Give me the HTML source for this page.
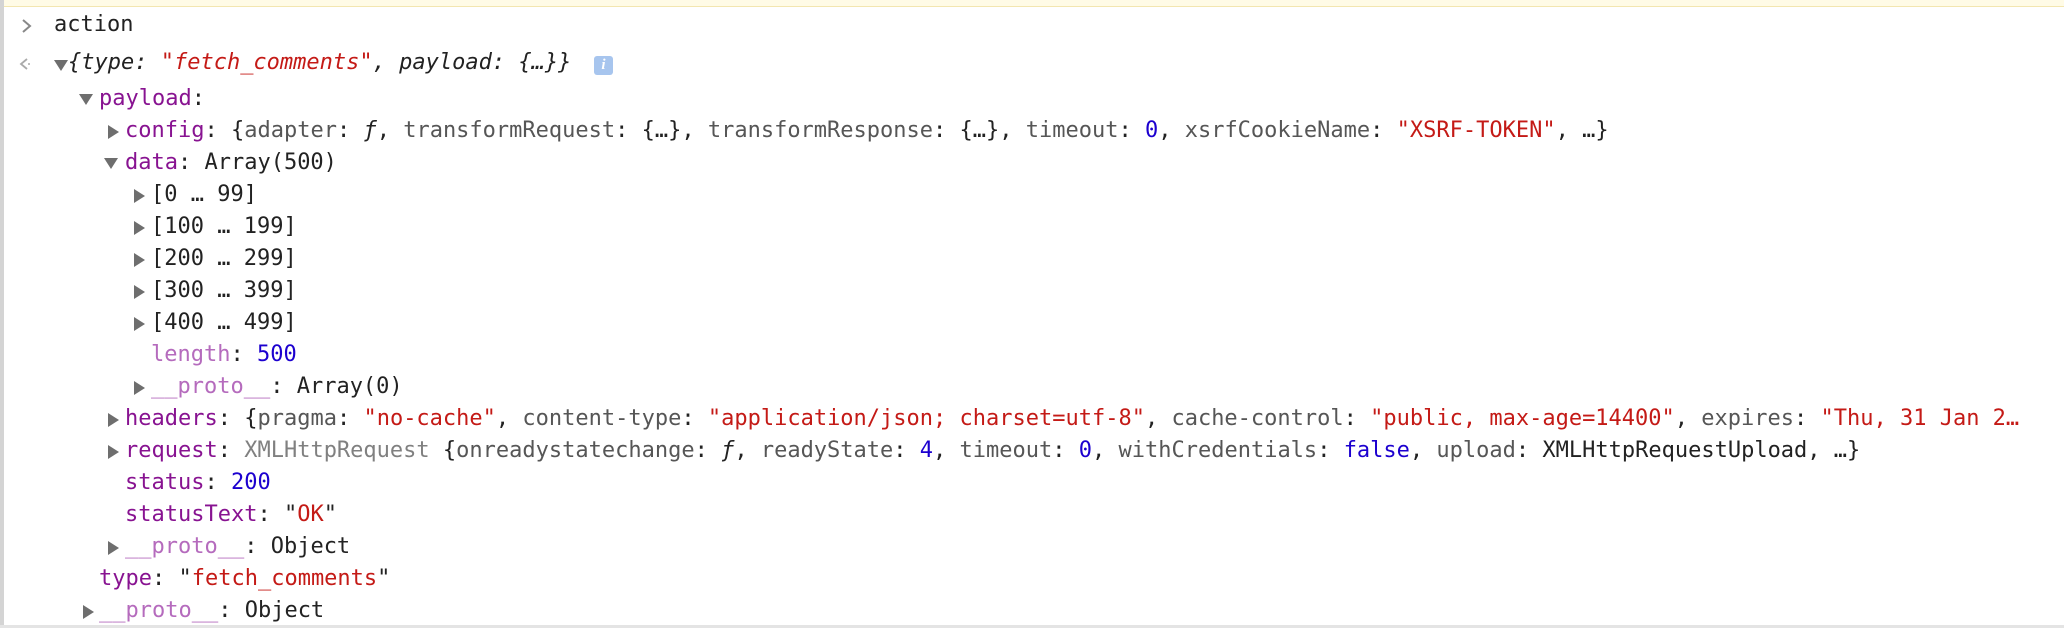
<!DOCTYPE html>
<html><head><meta charset="utf-8">
<style>
html,body{margin:0;padding:0;background:#fff;}
body{width:2064px;height:628px;position:relative;overflow:hidden;font-family:"DejaVu Sans Mono","Liberation Mono",monospace;font-size:22px;color:#222;}
.top{position:absolute;left:0;top:0;width:2064px;height:6px;background:#fffbe6;border-bottom:1px solid #f3e6b0;}
.lb{position:absolute;left:0;top:0;width:4px;height:628px;background:#d4d4d4;}
.bb{position:absolute;left:0;top:625px;width:2064px;height:3px;background:#e4e4e4;}
.w{position:absolute;left:0;top:3px;width:2064px;height:620px;}
.l{position:absolute;height:32px;line-height:32px;white-space:pre;}
.k{color:#881391}
.kp{color:#b56bbd}
.s{color:#c41a16}
.n{color:#1c00cf}
.pk{color:#565656}
.g{color:#808080}
.i{font-style:italic}
.t{position:absolute;width:0;height:0;}
.td{border-left:7px solid transparent;border-right:7px solid transparent;border-top:11px solid #6e6e6e;}
.tr{border-top:7px solid transparent;border-bottom:7px solid transparent;border-left:11px solid #6e6e6e;}
.info{position:absolute;left:594px;top:53px;width:19px;height:19px;border-radius:3px;background:#a7c5ee;color:#fff;font:italic bold 15px "Liberation Serif",serif;text-align:center;line-height:19px;}
</style></head><body>
<div class="top"></div><div class="lb"></div><div class="bb"></div>
<div class="w">
<svg style="position:absolute;left:20px;top:14px" width="14" height="18"><polyline points="3,3 10,9 3,15" fill="none" stroke="#888" stroke-width="2"/></svg>
<div class="l" style="left:54px;top:6px">action</div>

<svg style="position:absolute;left:18px;top:53px" width="14" height="16"><polyline points="9,3 3,8 9,13" fill="none" stroke="#aaa" stroke-width="1.8"/><circle cx="11" cy="8" r="1" fill="#aaa"/></svg>
<div class="t td" style="left:54px;top:57px"></div>
<div class="l i" style="left:68px;top:44px">{type: <span class="s">"fetch_comments"</span>, payload: {…}}</div>
<div class="info">i</div>

<div class="t td" style="left:79px;top:91px"></div>
<div class="l" style="left:99px;top:80px"><span class="k">payload</span>:</div>

<div class="t tr" style="left:108px;top:122px"></div>
<div class="l" style="left:125px;top:112px"><span class="k">config</span>: {<span class="pk">adapter</span>: <span class="i">ƒ</span>, <span class="pk">transformRequest</span>: {…}, <span class="pk">transformResponse</span>: {…}, <span class="pk">timeout</span>: <span class="n">0</span>, <span class="pk">xsrfCookieName</span>: <span class="s">"XSRF-TOKEN"</span>, …}</div>

<div class="t td" style="left:104px;top:155px"></div>
<div class="l" style="left:125px;top:144px"><span class="k">data</span>: Array(500)</div>

<div class="t tr" style="left:134px;top:186px"></div>
<div class="l" style="left:151px;top:176px">[0 … 99]</div>
<div class="t tr" style="left:134px;top:218px"></div>
<div class="l" style="left:151px;top:208px">[100 … 199]</div>
<div class="t tr" style="left:134px;top:250px"></div>
<div class="l" style="left:151px;top:240px">[200 … 299]</div>
<div class="t tr" style="left:134px;top:282px"></div>
<div class="l" style="left:151px;top:272px">[300 … 399]</div>
<div class="t tr" style="left:134px;top:314px"></div>
<div class="l" style="left:151px;top:304px">[400 … 499]</div>
<div class="l" style="left:151px;top:336px"><span class="kp">length</span>: <span class="n">500</span></div>
<div class="t tr" style="left:134px;top:378px"></div>
<div class="l" style="left:151px;top:368px"><span class="kp">__proto__</span>: Array(0)</div>

<div class="t tr" style="left:108px;top:410px"></div>
<div class="l" style="left:125px;top:400px"><span class="k">headers</span>: {<span class="pk">pragma</span>: <span class="s">"no-cache"</span>, <span class="pk">content-type</span>: <span class="s">"application/json; charset=utf-8"</span>, <span class="pk">cache-control</span>: <span class="s">"public, max-age=14400"</span>, <span class="pk">expires</span>: <span class="s">"Thu, 31 Jan 2…</span></div>

<div class="t tr" style="left:108px;top:442px"></div>
<div class="l" style="left:125px;top:432px"><span class="k">request</span>: <span class="g">XMLHttpRequest</span> {<span class="pk">onreadystatechange</span>: <span class="i">ƒ</span>, <span class="pk">readyState</span>: <span class="n">4</span>, <span class="pk">timeout</span>: <span class="n">0</span>, <span class="pk">withCredentials</span>: <span class="n">false</span>, <span class="pk">upload</span>: XMLHttpRequestUpload, …}</div>

<div class="l" style="left:125px;top:464px"><span class="k">status</span>: <span class="n">200</span></div>
<div class="l" style="left:125px;top:496px"><span class="k">statusText</span>: "<span class="s">OK</span>"</div>
<div class="t tr" style="left:108px;top:538px"></div>
<div class="l" style="left:125px;top:528px"><span class="kp">__proto__</span>: Object</div>

<div class="l" style="left:99px;top:560px"><span class="k">type</span>: "<span class="s">fetch_comments</span>"</div>
<div class="t tr" style="left:83px;top:602px"></div>
<div class="l" style="left:99px;top:592px"><span class="kp">__proto__</span>: Object</div>
</div>
</body></html>
